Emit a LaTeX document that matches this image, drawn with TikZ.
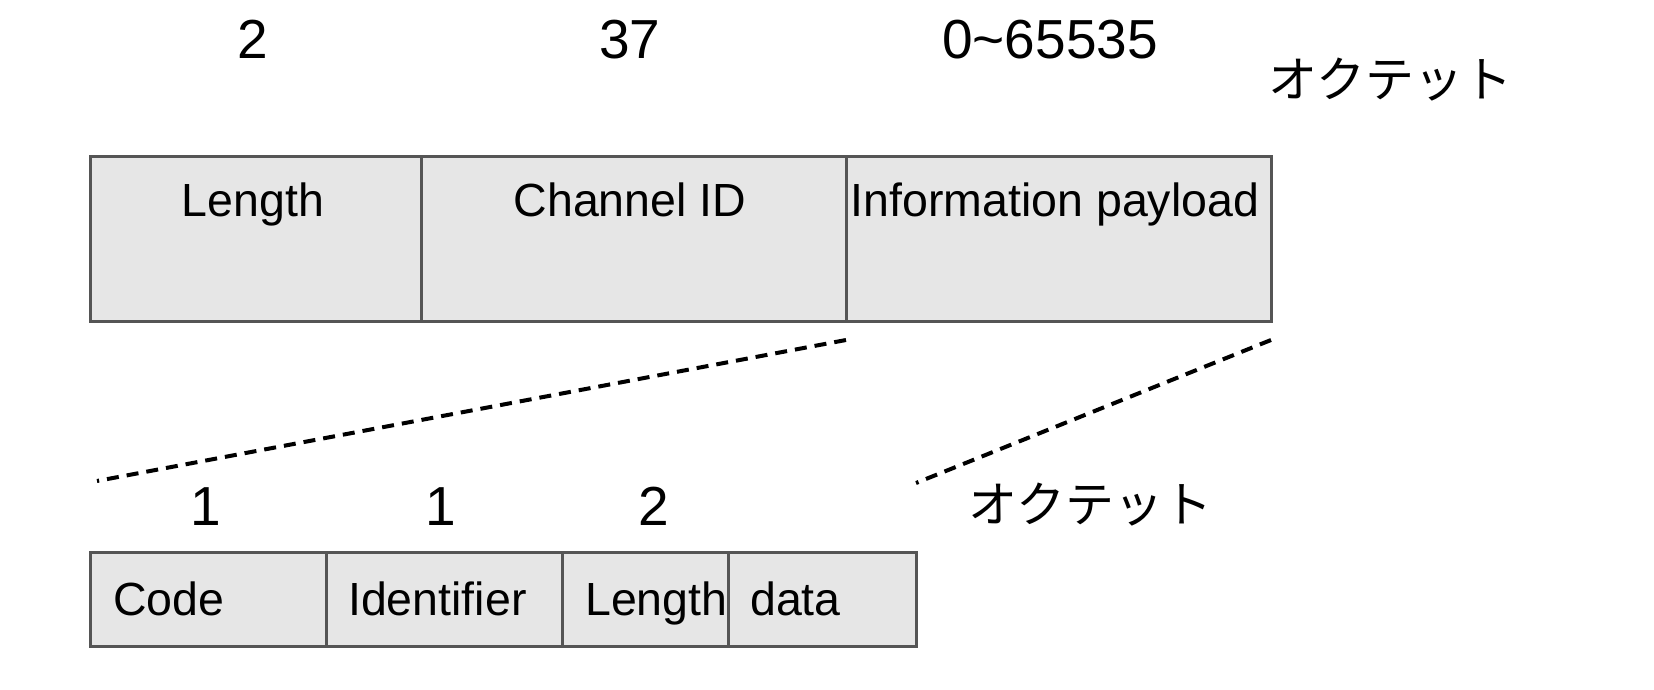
\documentclass[tikz,border=0pt]{standalone}
\usepackage{fontspec}
\setmainfont{Liberation Sans}
\newfontfamily\jpfont{Noto Sans CJK JP}
\definecolor{linegray}{HTML}{555555}
\definecolor{fieldgray}{HTML}{E6E6E6}

\begin{document}
\begin{tikzpicture}[x=1pt,y=-1pt,
	field/.style={draw=linegray, fill=fieldgray, line width=3pt, inner sep=0pt},
	num/.style={font=\fontsize{55}{60}\selectfont, inner sep=0pt, anchor=base},
	lbl/.style={font=\fontsize{46.5}{52}\selectfont, inner sep=0pt},
	unit/.style={font=\jpfont\fontsize{49}{54}\selectfont, inner sep=0pt, anchor=base},
	cut/.style={line width=4pt, dash pattern=on 12pt off 8pt}]
	\useasboundingbox (0,0) rectangle (1654,690);
	% frame fields
	\node[field, minimum width=331pt, minimum height=165pt] (len) at (255.5,238.5) {};
	\node[field, minimum width=425pt, minimum height=165pt] (cid) at (633.5,238.5) {};
	\node[field, minimum width=425pt, minimum height=165pt] (pay) at (1058.5,238.5) {};
	\node[lbl, anchor=base] (lenT) at (253,216) {Length};
	\node[lbl, anchor=base] (cidT) at (630,216) {Channel ID};
	\node[lbl, anchor=base] (payT) at (1055,216) {Information payload};
	\node[num] (n1) at (253,59) {2};
	\node[num] (n2) at (630,59) {37};
	\node[num] (n3) at (1050,59) {0\char`~65535};
	\node[unit] (u1) at (1390,98) {オクテット};
	% signalling fields
	\node[field, minimum width=236pt, minimum height=94pt] (code) at (208,599) {};
	\node[field, minimum width=236pt, minimum height=94pt] (ident) at (444,599) {};
	\node[field, minimum width=166pt, minimum height=94pt] (slen) at (645,599) {};
	\node[field, minimum width=188pt, minimum height=94pt] (data) at (822,599) {};
	\node[lbl, anchor=base west] (codeT) at (113,615) {Code};
	\node[lbl, anchor=base west] (identT) at (348,615) {Identifier};
	\node[lbl, anchor=base west] (slenT) at (585,615) {Length};
	\node[lbl, anchor=base west] (dataT) at (750,615) {data};
	\node[num] (m1) at (206,525) {1};
	\node[num] (m2) at (441,525) {1};
	\node[num] (m3) at (654,525) {2};
	\node[unit] (u2) at (1090,522) {オクテット};
	% zoom lines
	\coordinate (pl) at (846,340);
	\coordinate (pr) at (1271,340);
	\coordinate (sl) at (97,481);
	\coordinate (sr) at (916,483);
	\draw[cut] (pl) -- (sl);
	\draw[cut] (pr) -- (sr);
\end{tikzpicture}
\end{document}
